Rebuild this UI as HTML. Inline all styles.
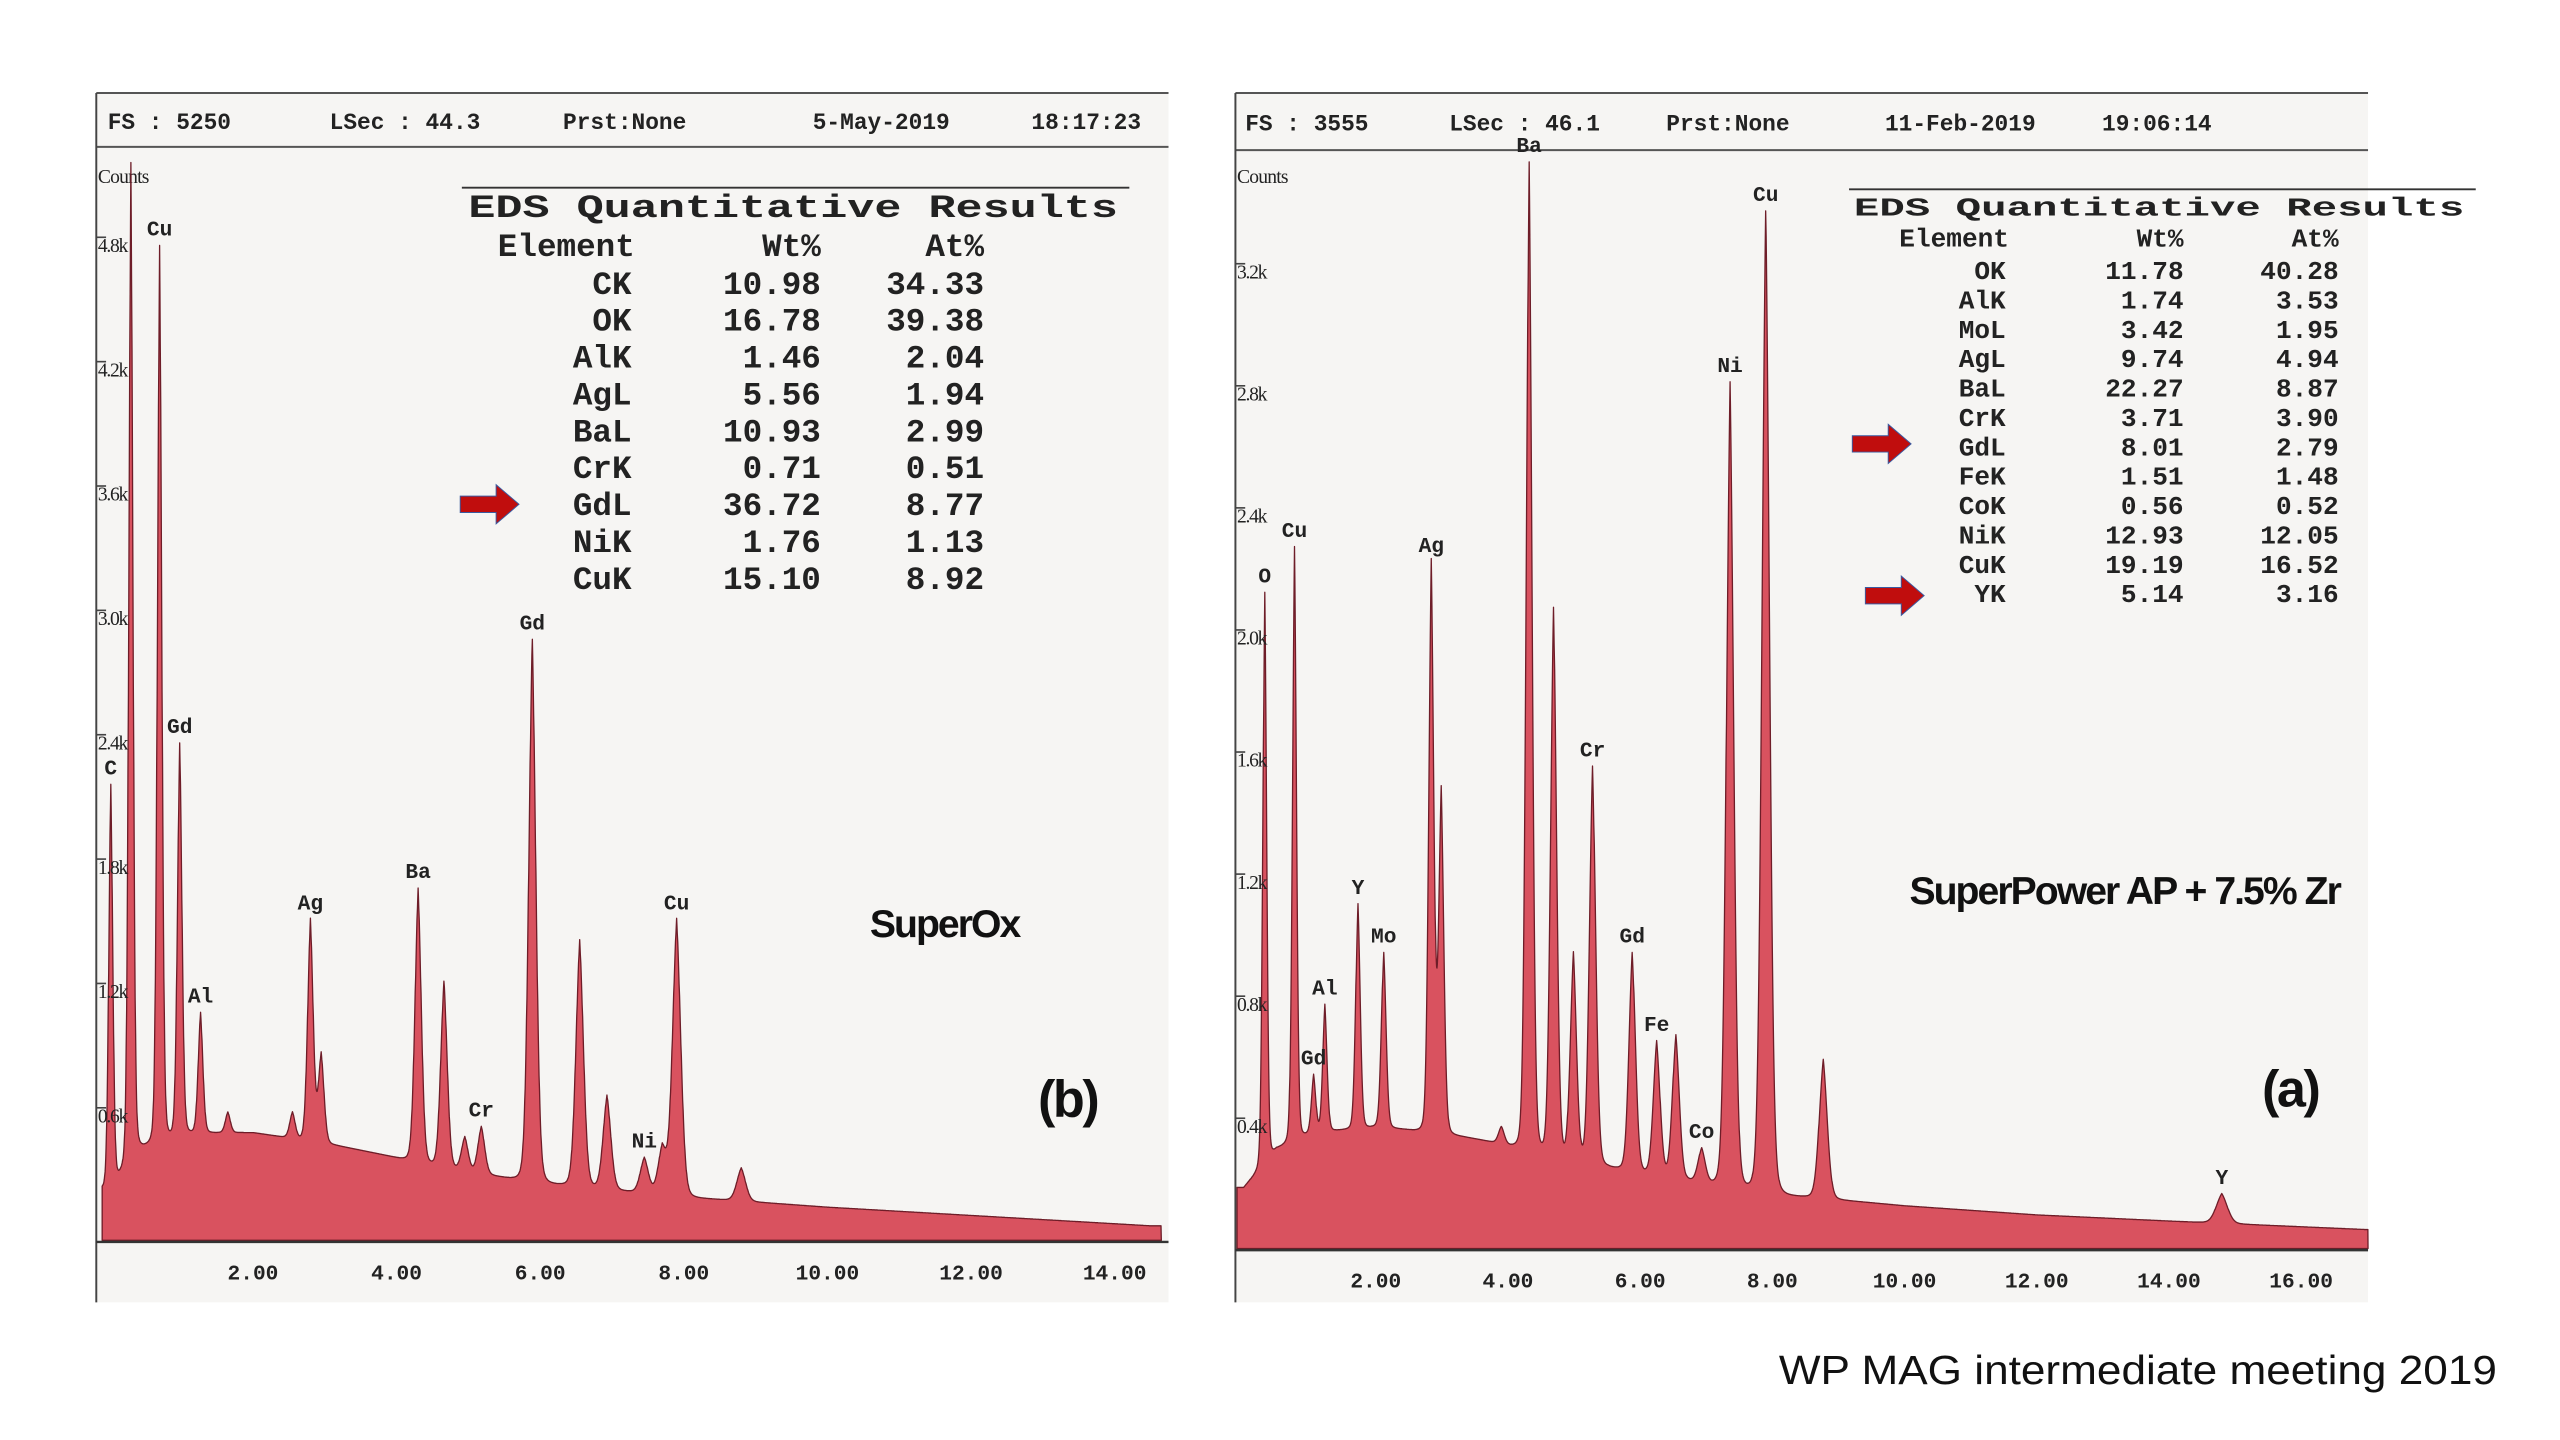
<!DOCTYPE html>
<html><head><meta charset="utf-8">
<style>
html,body{margin:0;padding:0;background:#fff;}
body{width:2560px;height:1440px;overflow:hidden;position:relative;}
#stage{position:absolute;left:0;top:0;width:1552px;height:873px;transform:scale(1.632);transform-origin:0 0;}
.mono{font-family:"Liberation Mono",monospace;font-weight:bold;fill:#222;}
.ser{font-family:"Liberation Serif",serif;fill:#222;}
.sans{font-family:"Liberation Sans",sans-serif;font-weight:bold;fill:#111;}
</style></head><body>
<div id="stage">
<svg id="svg" width="1552" height="873" viewBox="0 0 1552 873" xmlns="http://www.w3.org/2000/svg">
  <rect x="59" y="57" width="657" height="741" fill="#f6f5f3"/>
  <rect x="757" y="57" width="694" height="741" fill="#f6f5f3"/>
  <g id="gb"></g>
  <g id="ga"></g>
  <text x="1090" y="848" textLength="440" lengthAdjust="spacingAndGlyphs" font-family="Liberation Sans, sans-serif" font-size="25" fill="#111">WP MAG intermediate meeting 2019</text>
</svg>
</div>
<script>
// ---- Panel (b) SuperOx data ----
const bPeakE = [0.02,0.30,0.70,0.98,1.27,1.65,2.55,2.80,2.95,4.30,4.66,4.95,5.18,5.89,6.55,6.93,7.45,7.70,7.90,8.80];
const bPeakH = [2.2,5.2,4.8,2.4,1.1,0.62,0.62,1.55,0.9,1.7,1.25,0.5,0.55,2.9,1.45,0.7,0.4,0.45,1.55,0.35];
const bBgE = [0,0.4,1,2,3,4,5,6,8,10,12,14.5];
const bBgH = [0.25,0.45,0.52,0.52,0.47,0.4,0.33,0.28,0.21,0.16,0.12,0.07];
const bXTicks = ["2.00","4.00","6.00","8.00","10.00","12.00","14.00"];
const bYTicks = ["0.6k","1.2k","1.8k","2.4k","3.0k","3.6k","4.2k","4.8k"];
const bLabels = [["C",0.02,2.2],["Cu",0.70,4.8],["Gd",0.98,2.4],["Al",1.27,1.1],["Ag",2.80,1.55],["Ba",4.30,1.7],["Cr",5.18,0.55],["Gd",5.89,2.9],["Ni",7.45,0.4],["Cu",7.90,1.55]];
const bElem = ["CK","OK","AlK","AgL","BaL","CrK","GdL","NiK","CuK"];
const bWt = ["10.98","16.78","1.46","5.56","10.93","0.71","36.72","1.76","15.10"];
const bAt = ["34.33","39.38","2.04","1.94","2.99","0.51","8.77","1.13","8.92"];
const bHeader = ["FS : 5250","LSec : 44.3","Prst:None","5-May-2019","18:17:23"];

// ---- Panel (a) SuperPower data ----
const aPeakE = [0.32,0.77,1.06,1.23,1.73,2.12,2.84,2.99,3.9,4.32,4.69,4.99,5.28,5.88,6.25,6.54,6.93,7.36,7.90,8.77,14.8];
const aPeakH = [2.15,2.3,0.57,0.8,1.13,0.97,2.25,1.5,0.4,3.56,2.1,0.97,1.58,0.97,0.68,0.7,0.33,2.84,3.4,0.62,0.18];
const aBgE = [0,0.5,1,2,3,4,5,6,8,10,12,14,17.2];
const aBgH = [0.2,0.33,0.38,0.4,0.38,0.34,0.29,0.25,0.18,0.14,0.11,0.09,0.06];
const aXTicks = ["2.00","4.00","6.00","8.00","10.00","12.00","14.00","16.00"];
const aYTicks = ["0.4k","0.8k","1.2k","1.6k","2.0k","2.4k","2.8k","3.2k"];
const aLabels = [["O",0.32,2.15],["Cu",0.77,2.3],["Gd",1.06,0.57],["Al",1.23,0.8],["Y",1.73,1.13],["Mo",2.12,0.97],["Ag",2.84,2.25],["Ba",4.32,3.56],["Cr",5.28,1.58],["Gd",5.88,0.97],["Fe",6.25,0.68],["Co",6.93,0.33],["Ni",7.36,2.84],["Cu",7.90,3.4],["Y",14.8,0.18]];
const aElem = ["OK","AlK","MoL","AgL","BaL","CrK","GdL","FeK","CoK","NiK","CuK","YK"];
const aWt = ["11.78","1.74","3.42","9.74","22.27","3.71","8.01","1.51","0.56","12.93","19.19","5.14"];
const aAt = ["40.28","3.53","1.95","4.94","8.87","3.90","2.79","1.48","0.52","12.05","16.52","3.16"];
const aHeader = ["FS : 3555","LSec : 46.1","Prst:None","11-Feb-2019","19:06:14"];

const NS="http://www.w3.org/2000/svg";
function mk(parent,tag,attrs,text){const e=document.createElementNS(NS,tag);for(const k in attrs)e.setAttribute(k,attrs[k]);if(text!==undefined)e.textContent=text;parent.appendChild(e);return e;}
function interp(xs,ys,x){if(x<=xs[0])return ys[0];for(let i=1;i<xs.length;i++){if(x<=xs[i]){const t=(x-xs[i-1])/(xs[i]-xs[i-1]);return ys[i-1]+t*(ys[i]-ys[i-1]);}}return ys[ys.length-1];}

function drawPanel(g,cfg){
  const xs=e=>cfg.x0+e*cfg.kx, ys=v=>cfg.y0-v*cfg.ky;
  let l;
  l=mk(g,'line',{x1:cfg.L,y1:57,x2:cfg.R,y2:57,stroke:'#555','stroke-width':1.2});
  
  l=mk(g,'line',{x1:cfg.L,y1:cfg.hy,x2:cfg.R,y2:cfg.hy,stroke:'#555','stroke-width':1.2});
  
  l=mk(g,'line',{x1:cfg.L,y1:57,x2:cfg.L,y2:798,stroke:'#444','stroke-width':1.2});
  
  cfg.header.forEach((t,i)=>{const e=mk(g,'text',{x:cfg.hx[i],y:cfg.hty,'font-size':14,class:'mono'},t);
    });
  let c=mk(g,'text',{x:cfg.L+1,y:112,'font-size':12,class:'ser','letter-spacing':'-0.5'},'Counts');
  
  const amp=cfg.pE.map((e,i)=>Math.max(0.02,cfg.pH[i]-interp(cfg.bgE,cfg.bgH,e)));
  const e1=Math.min(cfg.e1,(cfg.R-cfg.x0)/cfg.kx);
  let d='M'+xs(cfg.e0).toFixed(1)+','+cfg.y0;
  for(let e=cfg.e0;e<=e1;e+=0.005){
    let v=interp(cfg.bgE,cfg.bgH,e);
    for(let i=0;i<cfg.pE.length;i++){const s=0.03+0.004*cfg.pE[i];const z=(e-cfg.pE[i])/s;
      v+=amp[i]*(0.7*Math.exp(-0.5*z*z)+0.3*Math.exp(-Math.abs(z)*1.0));}
    d+=' L'+xs(e).toFixed(1)+','+ys(v).toFixed(1);
  }
  d+=' L'+xs(e1).toFixed(1)+','+cfg.y0+' Z';
  const p=mk(g,'path',{d:d,fill:'#d9525f',stroke:'#6e1d28','stroke-width':0.8,'stroke-linejoin':'round'});
  
  l=mk(g,'line',{x1:cfg.L,y1:cfg.y0+1,x2:cfg.R,y2:cfg.y0+1,stroke:'#333','stroke-width':1.5});
  
  cfg.xt.forEach(t=>{const e=mk(g,'text',{x:xs(parseFloat(t)),y:cfg.y0+24,'font-size':13,class:'mono','text-anchor':'middle'},t);
    });
  cfg.yt.forEach(t=>{const v=parseFloat(t);const y=ys(v);
    const e=mk(g,'text',{x:cfg.L+1,y:y+4,'font-size':12,class:'ser','letter-spacing':'-0.8'},t);
    
    const tk=mk(g,'line',{x1:cfg.L,y1:y-5,x2:cfg.L+6,y2:y-5,stroke:'#444','stroke-width':1});
    });
  cfg.labels.forEach(lb=>{const e=mk(g,'text',{x:xs(lb[1]),y:ys(lb[2])-6,'font-size':13,class:'mono','text-anchor':'middle'},lb[0]);
    });
  const T=cfg.tab;
  l=mk(g,'line',{x1:T.lx1,y1:T.ly,x2:T.lx2,y2:T.ly,stroke:'#333','stroke-width':1.2});
  
  let t=mk(g,'text',{x:T.tx,y:T.ty,'font-size':T.fs,class:'mono',textLength:T.tw,lengthAdjust:'spacingAndGlyphs'},'EDS Quantitative Results');
  
  [['Element',T.c0+2],['Wt%',T.c1],['At%',T.c2]].forEach(h=>{const e=mk(g,'text',{x:h[1],y:T.hy,'font-size':T.fs,class:'mono','text-anchor':'end'},h[0]);
    });
  cfg.elem.forEach((el,i)=>{const y=T.r0+i*T.step;
    [[el,T.c0],[cfg.wt[i],T.c1],[cfg.at[i],T.c2]].forEach(cc=>{const e=mk(g,'text',{x:cc[1],y:y,'font-size':T.fs,class:'mono','text-anchor':'end'},cc[0]);
      });});
  cfg.arrows.forEach(a=>{const x=a[0],y=a[1];
    const e=mk(g,'path',{d:`M${x},${y-5} L${x+22},${y-5} L${x+22},${y-12} L${x+36},${y} L${x+22},${y+12} L${x+22},${y+5} L${x},${y+5} Z`,fill:'#c00d0d',stroke:'#3a5aa0','stroke-width':0.6});
    });
  t=mk(g,'text',{x:cfg.nameX,y:cfg.nameY,'font-size':24,class:'sans','letter-spacing':'-1.2'},cfg.name);
  
  t=mk(g,'text',{x:cfg.tagX,y:cfg.tagY,'font-size':32,class:'sans','letter-spacing':'-1.5'},cfg.tag);
  
}

drawPanel(document.getElementById('gb'),{L:59,R:716,hy:90,hty:79,hx:[66,202,345,498,632],header:bHeader,
  x0:67,kx:44,y0:760,ky:127,e0:-0.1,e1:14.65,pE:bPeakE,pH:bPeakH,bgE:bBgE,bgH:bBgH,xt:bXTicks,yt:bYTicks,labels:bLabels,
  elem:bElem,wt:bWt,at:bAt,
  tab:{lx1:283,lx2:692,ly:115,tx:287,ty:133,tw:398,fs:20,hy:157,r0:180,step:22.6,c0:387,c1:503,c2:603},
  arrows:[[282,309]],name:'SuperOx',nameX:533,nameY:574,tag:'(b)',tagX:636,tagY:684});
drawPanel(document.getElementById('ga'),{L:757,R:1451,hy:92,hty:80,hx:[763,888,1021,1155,1288],header:aHeader,
  x0:762,kx:40.5,y0:765,ky:187,e0:-0.1,e1:17.15,pE:aPeakE,pH:aPeakH,bgE:aBgE,bgH:aBgH,xt:aXTicks,yt:aYTicks,labels:aLabels,
  elem:aElem,wt:aWt,at:aAt,
  tab:{lx1:1133,lx2:1517,ly:116,tx:1136,ty:132,tw:374,fs:16,hy:151,r0:171,step:18,c0:1229,c1:1338,c2:1433},
  arrows:[[1135,272],[1143,365]],name:'SuperPower AP + 7.5% Zr',nameX:1170,nameY:554,tag:'(a)',tagX:1386,tagY:678});
</script>
</body></html>
